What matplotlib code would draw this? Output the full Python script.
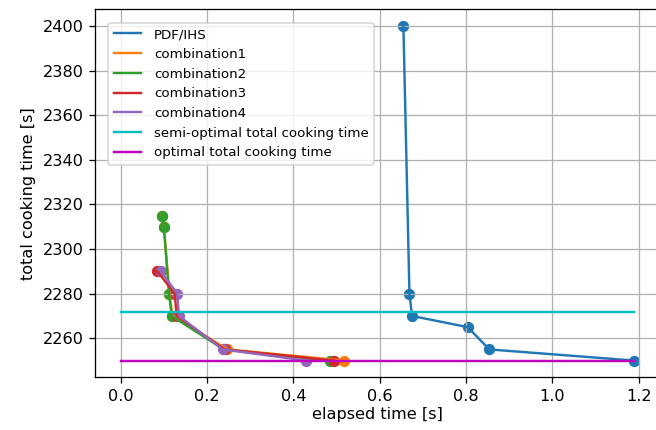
import matplotlib
matplotlib.use("Agg")
import matplotlib.pyplot as plt

# data
pdf_x = [0.655, 0.669, 0.675, 0.804, 0.854, 1.19]
pdf_y = [2400, 2280, 2270, 2265, 2255, 2250]

c1_x = [0.095, 0.100, 0.113, 0.120, 0.247, 0.517]
c1_y = [2315, 2310, 2280, 2270, 2255, 2250]

c2_x = [0.095, 0.100, 0.112, 0.118, 0.239, 0.484]
c2_y = [2315, 2310, 2280, 2270, 2255, 2250]

c3_x = [0.085, 0.125, 0.130, 0.241, 0.494]
c3_y = [2290, 2280, 2270, 2255, 2250]

c4_x = [0.093, 0.131, 0.135, 0.236, 0.430]
c4_y = [2290, 2280, 2270, 2255, 2250]

semi_optimal = 2272
optimal = 2250
line_x = [0.0, 1.19]

labels = ["PDF/IHS", "combination1", "combination2", "combination3", "combination4"]
colors = ["C0", "C1", "C2", "C3", "C4"]

DPI = 116
fig = plt.figure(figsize=(656 / DPI, 430 / DPI), dpi=DPI)
ax = fig.add_axes([95 / 656, (430 - 377.3) / 430, (660 - 95) / 656, (377.3 - 9.3) / 430])

series = [(pdf_x, pdf_y), (c1_x, c1_y), (c2_x, c2_y), (c3_x, c3_y), (c4_x, c4_y)]
for (xs, ys), lab, col in zip(series, labels, colors):
    ax.plot(xs, ys, color=col, label=lab)
    ax.scatter(xs, ys, color=col)

ax.plot(line_x, [semi_optimal, semi_optimal], color="c", label="semi-optimal total cooking time")
ax.plot(line_x, [optimal, optimal], color="m", label="optimal total cooking time")

ax.set_xlabel("elapsed time [s]", labelpad=2)
ax.set_ylabel("total cooking time [s]")
ax.grid(True)
ax.legend(loc="upper left", fontsize="small", borderaxespad=1.0, handletextpad=1.0)

fig.savefig("out.png", dpi=DPI)
